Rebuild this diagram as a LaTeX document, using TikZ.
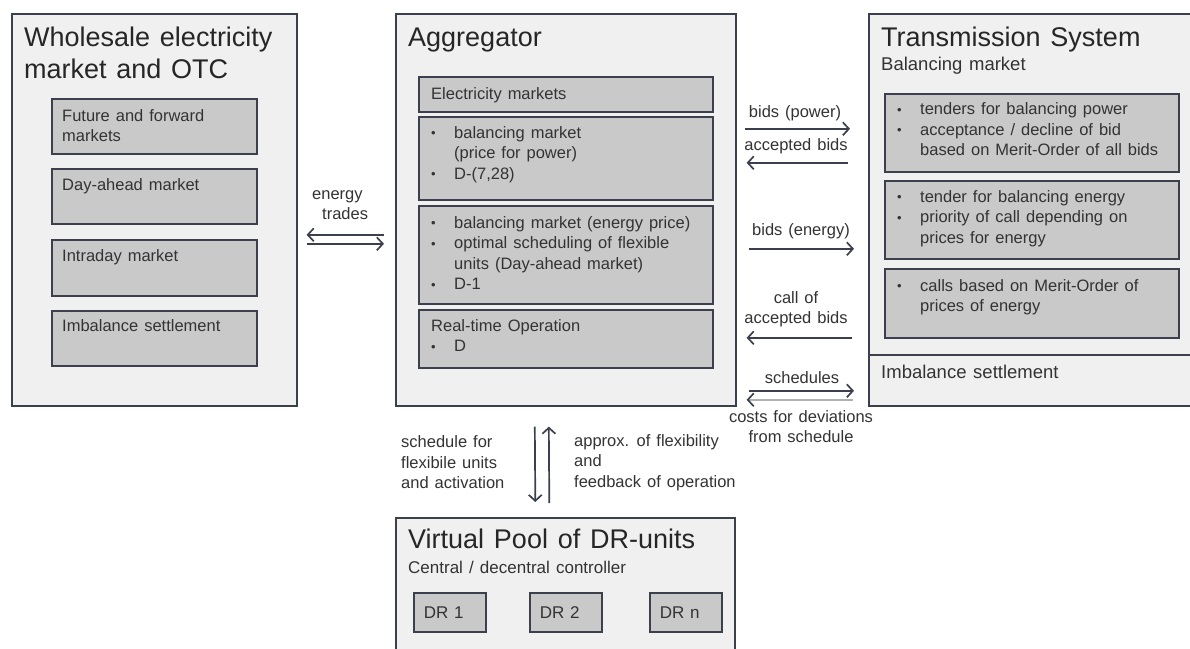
\documentclass[tikz,border=0pt]{standalone}
\usepackage{fontspec}
\setmainfont{Liberation Sans}[WordSpace=1.3]
\usetikzlibrary{arrows.meta,calc,positioning}

\definecolor{boxline}{HTML}{3B404C}
\definecolor{outerfill}{HTML}{EFF0EF}
\definecolor{innerfill}{HTML}{C9C9C9}
\definecolor{txtgray}{HTML}{333333}
\definecolor{lightarrow}{HTML}{B0B0B0}

\newcommand{\bigtitle}{\fontsize{27}{31}\selectfont}
\newcommand{\subtitle}{\fontsize{18.5}{22}\selectfont}
\newcommand{\pooltitle}{\fontsize{17}{21}\selectfont}
\newcommand{\smalltext}{\fontsize{16.5}{20.5}\selectfont}
\newcommand{\itembul}{\makebox[23pt][l]{\raisebox{0.3pt}{\fontsize{13}{13}\selectfont\textbullet}}}
\newcommand{\itemgap}{\hspace*{23pt}}

\tikzset{
  outerbox/.style={draw=boxline, line width=1.6pt, fill=outerfill, anchor=north west, inner sep=0pt},
  innerbox/.style={draw=boxline, line width=1.6pt, fill=innerfill, anchor=north west, inner sep=0pt},
  drbox/.style={innerbox, minimum width=72pt, minimum height=39pt, text width=52pt, inner xsep=10pt, align=left, text=txtgray, font=\pooltitle},
  txt/.style={anchor=base west, inner sep=0pt, align=left, text=txtgray, font=\smalltext},
  head/.style={txt, text=black!85, font=\bigtitle},
  lbl/.style={anchor=base, inner sep=0pt, align=center, text=txtgray, font=\smalltext},
  arr/.style={draw=boxline, line width=1.7pt, -{Straight Barb[length=6pt,width=13pt,color=boxline]}},
}

\begin{document}
\begin{tikzpicture}[x=1pt,y=-1pt]
  \useasboundingbox (0,0) rectangle (1190,648);

  % wholesale market (multi-line texts sit on their last baseline)
  \node[outerbox, minimum width=285pt, minimum height=392pt] (whole) at (11,13) {};
  \node[head] (wholetitle) at (24,46) {Wholesale electricity};
  \node[head] (wholetitle2) at (24,78) {market and OTC};
  \node[innerbox, minimum width=205pt, minimum height=55pt] (future) at (51,98) {};
  \node[innerbox, minimum width=205pt, minimum height=55pt] (dayahead) at (51,168) {};
  \node[innerbox, minimum width=205pt, minimum height=56pt] (intraday) at (51,239) {};
  \node[innerbox, minimum width=205pt, minimum height=55pt] (imbwhole) at (51,310) {};
  \node[txt] at ($(future.north west)+(11,43.5)$) {Future and forward\\markets};
  \node[txt] at ($(dayahead.north west)+(11,22.5)$) {Day-ahead market};
  \node[txt] at ($(intraday.north west)+(11,22.5)$) {Intraday market};
  \node[txt] at ($(imbwhole.north west)+(11,21.5)$) {Imbalance settlement};

  % aggregator
  \node[outerbox, minimum width=340pt, minimum height=392pt] (agg) at (395,13) {};
  \node[head] (aggtitle) at (408,46) {Aggregator};
  \node[innerbox, minimum width=294pt, minimum height=35pt] (elmarkets) at (418,76) {};
  \node[innerbox, minimum width=294pt, minimum height=83pt] (powprice) at (418,116) {};
  \node[innerbox, minimum width=294pt, minimum height=98pt] (enprice) at (418,205) {};
  \node[innerbox, minimum width=294pt, minimum height=58pt] (realtime) at (418,309) {};
  \node[txt] at ($(elmarkets.north west)+(13,23)$) {Electricity markets};
  \node[txt] at ($(powprice.north west)+(13,63)$)
    {\itembul balancing market\\\itemgap(price for power)\\\itembul D-(7,28)};
  \node[txt] at ($(enprice.north west)+(13,84.5)$)
    {\itembul balancing market (energy price)\\\itembul optimal scheduling of flexible\\
     \itemgap units (Day-ahead market)\\\itembul D-1};
  \node[txt] at ($(realtime.north west)+(13,42.5)$) {Real-time Operation\\\itembul D};

  % transmission system
  \node[outerbox, minimum width=330pt, minimum height=392pt] (tso) at (868,13) {};
  \node[head] (tsotitle) at (881,46) {Transmission System};
  \node[txt, font=\subtitle] (balmarket) at (881,70) {Balancing market};
  \node[innerbox, minimum width=294pt, minimum height=78pt] (tenderpow) at (884,93) {};
  \node[innerbox, minimum width=294pt, minimum height=78pt] (tenderen) at (884,180) {};
  \node[innerbox, minimum width=294pt, minimum height=69pt] (calls) at (884,268) {};
  \node[txt] at ($(tenderpow.north west)+(13,62.5)$)
    {\itembul tenders for balancing power\\\itembul acceptance / decline of bid\\
     \itemgap based on Merit-Order of all bids};
  \node[txt] at ($(tenderen.north west)+(13,63)$)
    {\itembul tender for balancing energy\\\itembul priority of call depending on\\
     \itemgap prices for energy};
  \node[txt] at ($(calls.north west)+(13,43.5)$)
    {\itembul calls based on Merit-Order of\\\itemgap prices of energy};
  \draw[boxline, line width=1.6pt] ($(tso.north west)+(0,342)$) -- ($(tso.north east)+(0,342)$);
  \node[txt, font=\subtitle] (imbtso) at (881,378) {Imbalance settlement};

  % virtual pool
  \node[outerbox, minimum width=339pt, minimum height=140pt] (pool) at (395,517) {};
  \node[head] (pooltitle) at (408,548) {Virtual Pool of DR-units};
  \node[txt, font=\pooltitle] (controller) at (408,573) {Central / decentral controller};
  \node[drbox] (dr1) at (413,592) {DR 1};
  \node[drbox] (dr2) at (529,592) {DR 2};
  \node[drbox] (drn) at (649,592) {DR n};

  % wholesale <-> aggregator
  \node[txt] (trades) at (312,219.5) {energy\\\hspace*{10pt}trades};
  \draw[arr] ($(agg.west)+(-11,25)$) -- ($(whole.east)+(9,25)$);
  \draw[arr] ($(whole.east)+(9,34)$) -- ($(agg.west)+(-11,34)$);

  % aggregator <-> transmission system
  \node[lbl] (bidspow) at (795,117) {bids (power)};
  \draw[arr] ($(agg.east)+(8,-81)$) -- ($(tso.west)+(-18,-81)$);
  \node[lbl] (accepted) at (796,150) {accepted bids};
  \draw[arr] ($(tso.west)+(-20,-47)$) -- ($(agg.east)+(10,-47)$);
  \node[lbl] (bidsen) at (801,235) {bids (energy)};
  \draw[arr] ($(agg.east)+(12,39)$) -- ($(tso.west)+(-14,39)$);
  \node[lbl] (callof) at (796,323.5) {call of\\accepted bids};
  \draw[arr] ($(tso.west)+(-16,128)$) -- ($(agg.east)+(10,128)$);
  \node[lbl] (schedules) at (802,383) {schedules};
  \draw[arr] ($(agg.east)+(12,181)$) -- ($(tso.west)+(-14,181)$);
  \draw[arr, draw=lightarrow] ($(tso.west)+(-15,190)$) -- ($(agg.east)+(10,190)$);
  \node[lbl] (costs) at (801,442.5) {costs for deviations\\from schedule};

  % aggregator <-> virtual pool
  \draw[arr] ($(agg.south)+(-31,20)$) -- ($(pool.north)+(-30,-15)$);
  \draw[arr] ($(pool.north)+(-16,-14)$) -- ($(agg.south)+(-17,20)$);
  \node[txt] (schedfor) at (401,488.5) {schedule for\\flexibile units\\and activation};
  \node[txt] (feedback) at (574,487) {approx. of flexibility\\and\\feedback of operation};
\end{tikzpicture}
\end{document}
